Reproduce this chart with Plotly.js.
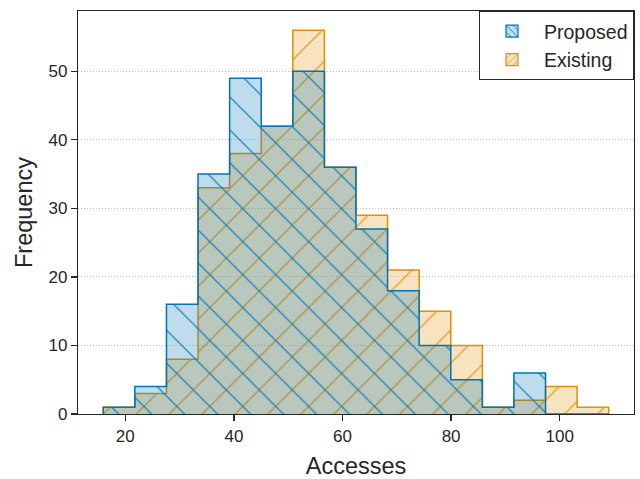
<!DOCTYPE html>
<html>
<head>
<meta charset="utf-8">
<script src="https://cdn.plot.ly/plotly-3.0.1.min.js"></script>
<style>
  html, body { margin: 0; padding: 0; background: #ffffff; }
  #chart { width: 640px; height: 479px; }
</style>
</head>
<body>
<div id="chart"></div>
<script>
// Histogram bin edges (Accesses)
var binEdges = [15.94, 21.76, 27.58, 33.39, 39.21, 45.03, 50.85, 56.67, 62.48,
                68.30, 74.12, 79.94, 85.76, 91.57, 97.39, 103.21, 109.03];
// Frequency per bin
var proposedCounts = [1, 4, 16, 35, 49, 42, 50, 36, 27, 18, 10, 5, 1, 6, 0, 0];
var existingCounts = [1, 3, 8, 33, 38, 42, 56, 36, 29, 21, 15, 10, 1, 2, 4, 1];
var seriesNames = ['Proposed', 'Existing'];
var xTicks = [20, 40, 60, 80, 100];
var yTicks = [0, 10, 20, 30, 40, 50];

var BLUE = '#0173b2', ORANGE = '#de8f05';
var BLUE_FILL = 'rgba(1,115,178,0.25)', ORANGE_FILL = 'rgba(222,143,5,0.25)';
var FONT = '"Liberation Sans", Arial, "DejaVu Sans", sans-serif';
var DARK = '#262626';

// step outline: start at baseline, step through each bin, return to baseline
function stepX(edges) {
  var xs = [edges[0]];
  for (var i = 0; i < edges.length - 1; i++) xs.push(edges[i]);
  xs.push(edges[edges.length - 1]);
  return xs;
}
function stepY(counts) {
  return [0].concat(counts).concat([0]);
}

function stepTrace(name, counts, lineColor, fillColor, shape) {
  return {
    type: 'scatter', mode: 'lines', name: name, showlegend: false,
    x: stepX(binEdges), y: stepY(counts),
    line: { shape: 'hv', color: lineColor, width: 1.5 },
    fill: 'toself', fillcolor: fillColor,
    fillpattern: { shape: shape, size: 23.3, solidity: 0.048, fillmode: 'replace',
                   fgcolor: lineColor, bgcolor: fillColor },
    hoverinfo: 'skip'
  };
}
// legend-only entries (no plotted point)
function legendTrace(name, lineColor, fillColor, shape) {
  return {
    type: 'bar', name: name, x: [null], y: [null], showlegend: true,
    marker: { color: fillColor, line: { color: lineColor, width: 1.2 },
              pattern: { shape: shape, size: 6, solidity: 0.15, fillmode: 'replace',
                         fgcolor: lineColor, bgcolor: fillColor } },
    hoverinfo: 'skip'
  };
}

var data = [
  legendTrace(seriesNames[0], BLUE, BLUE_FILL, '\\'),
  legendTrace(seriesNames[1], ORANGE, ORANGE_FILL, '/'),
  stepTrace(seriesNames[1], existingCounts, ORANGE, ORANGE_FILL, '/'),
  stepTrace(seriesNames[0], proposedCounts, BLUE, BLUE_FILL, '\\')
];

var lo = binEdges[0], hi = binEdges[binEdges.length - 1];
var pad = (hi - lo) * 0.05;
var ymax = Math.max.apply(null, proposedCounts.concat(existingCounts)) * 1.05;

var layout = {
  width: 640, height: 479,
  margin: { l: 78, r: 6, t: 11, b: 65, pad: 0 },
  paper_bgcolor: '#ffffff', plot_bgcolor: '#ffffff',
  font: { family: FONT, color: DARK },
  showlegend: true,
  legend: {
    x: 1, xanchor: 'right', y: 1, yanchor: 'top',
    bgcolor: '#ffffff', bordercolor: DARK, borderwidth: 1,
    font: { family: FONT, size: 19.5, color: DARK },
    traceorder: 'normal', itemwidth: 54
  },
  xaxis: {
    range: [lo - pad, hi + pad],
    tickmode: 'array', tickvals: xTicks, ticktext: xTicks.map(String),
    ticks: 'outside', ticklen: 6, tickwidth: 1.25, tickcolor: DARK,
    tickfont: { family: FONT, size: 17, color: DARK },
    showline: true, linecolor: DARK, linewidth: 1.25, mirror: true,
    showgrid: false, zeroline: false,
    title: { text: 'Accesses', font: { family: FONT, size: 23.5, color: DARK }, standoff: 13 }
  },
  yaxis: {
    range: [0, ymax],
    tickmode: 'array', tickvals: yTicks, ticktext: yTicks.map(String),
    ticks: 'outside', ticklen: 6, tickwidth: 1.25, tickcolor: DARK,
    tickfont: { family: FONT, size: 17, color: DARK },
    showline: true, linecolor: DARK, linewidth: 1.25, mirror: true,
    showgrid: true, gridcolor: '#b0b0b0', gridwidth: 0.8, griddash: '1px,2px',
    zeroline: false,
    title: { text: 'Frequency', font: { family: FONT, size: 23.5, color: DARK }, standoff: 9 }
  },
  barmode: 'overlay'
};

Plotly.newPlot('chart', data, layout, { displayModeBar: false, staticPlot: true });
</script>
</body>
</html>
